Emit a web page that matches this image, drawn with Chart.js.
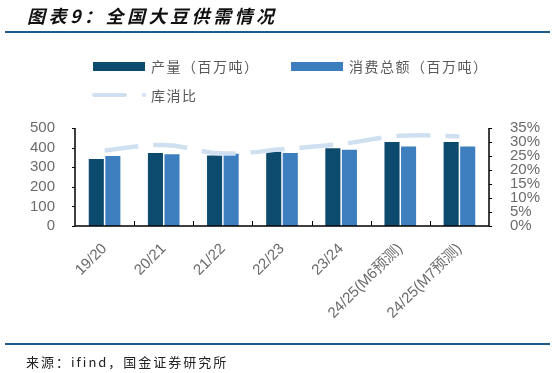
<!DOCTYPE html>
<html>
<head>
<meta charset="utf-8">
<script src="https://cdn.jsdelivr.net/npm/chart.js@4/dist/chart.umd.min.js"></script>
<style>
  html, body { margin: 0; padding: 0; background: #fff; }
  #wrap { position: relative; width: 556px; height: 373px; overflow: hidden; font-family: "Liberation Sans", "Noto Sans CJK SC", sans-serif; }
  #c { position: absolute; left: 0; top: 0; }
  .title { position: absolute; left: 27px; top: 3px; font-family: "Noto Sans CJK SC", sans-serif; font-weight: bold; font-style: italic; font-size: 18px; letter-spacing: 3.5px; color: #111; line-height: 24px; white-space: nowrap; }
  .rule { position: absolute; left: 5px; width: 545px; height: 2px; background: #1f5c8c; }
  .src { position: absolute; left: 26px; top: 352px; font-family: "Noto Sans CJK SC", sans-serif; font-size: 13px; letter-spacing: 2px; color: #222; line-height: 20px; white-space: nowrap; }
  .lg { position: absolute; font-family: "Noto Sans CJK SC", sans-serif; font-size: 14px; letter-spacing: 1.5px; color: #595959; line-height: 18px; white-space: nowrap; }
  .box { position: absolute; }
</style>
</head>
<body>
<div id="wrap">
  <canvas id="c" width="556" height="373"></canvas>
  <div class="title">图表9：全国大豆供需情况</div>
  <div class="rule" style="top:31px"></div>
  <div class="box" style="left:93px; top:62px; width:52px; height:9px; background:#0c4a6e"></div>
  <div class="lg" style="left:151px; top:57px">产量（百万吨）</div>
  <div class="box" style="left:291px; top:62px; width:52px; height:9px; background:#3d7ebf"></div>
  <div class="lg" style="left:349px; top:57px">消费总额（百万吨）</div>
  <div class="box" style="left:92px; top:93px; width:35px; height:4px; border-radius:2px; background:#cfe0f1"></div>
  <div class="box" style="left:142px; top:93px; width:4px; height:4px; border-radius:2px; background:#cfe0f1"></div>
  <div class="lg" style="left:151px; top:86px">库消比</div>
  <div class="rule" style="top:343px"></div>
  <div class="src">来源：ifind，国金证券研究所</div>
</div>
<script>
const categories = ["19/20", "20/21", "21/22", "22/23", "23/24", "24/25(M6预测)", "24/25(M7预测)"];
const production = [342, 373, 360, 379, 397, 428, 428];
const consumption = [357, 366, 369, 372, 389, 405, 405];
const stockToUse = [27.0, 28.9, 25.9, 27.4, 29.3, 32.2, 32.0];
const leftTicks = [0, 100, 200, 300, 400, 500];
const rightTicks = [0, 5, 10, 15, 20, 25, 30, 35];

const tickFont = { family: "'Liberation Sans', 'Noto Sans CJK SC', sans-serif", size: 15 };
const tickColor = "#6b6b6b";

const axesPlugin = {
  id: "axesPlugin",
  afterDraw(chart) {
    const ctx = chart.ctx;
    const a = chart.chartArea;
    const y = chart.scales.y;
    const y1 = chart.scales.y1;
    ctx.save();
    ctx.strokeStyle = "#000";
    ctx.lineWidth = 1.5;
    ctx.beginPath();
    ctx.moveTo(a.left, a.top); ctx.lineTo(a.left, a.bottom); ctx.lineTo(a.right, a.bottom); ctx.lineTo(a.right, a.top);
    ctx.stroke();
    ctx.lineWidth = 1;
    ctx.beginPath();
    leftTicks.forEach(v => { const py = Math.round(y.getPixelForValue(v)) + 0.5; ctx.moveTo(a.left - 3, py); ctx.lineTo(a.left, py); });
    rightTicks.forEach(v => { const py = Math.round(y1.getPixelForValue(v)) + 0.5; ctx.moveTo(a.right, py); ctx.lineTo(a.right + 3, py); });
    const w = (a.right - a.left) / categories.length;
    for (let i = 1; i < categories.length; i++) {
      const px = Math.round(a.left + w * i) + 0.5;
      ctx.moveTo(px, a.bottom); ctx.lineTo(px, a.bottom - 5);
    }
    ctx.stroke();
    ctx.restore();
  }
};

new Chart(document.getElementById("c"), {
  data: {
    labels: categories,
    datasets: [
      { type: "line", label: "库消比", data: stockToUse, yAxisID: "y1", order: 0,
        borderColor: "#cfe0f1", borderWidth: 4.5, borderDash: [34, 15], tension: 0.4,
        pointRadius: 0, fill: false },
      { type: "bar", label: "产量（百万吨）", data: production, yAxisID: "y", order: 1,
        backgroundColor: "#0c4a6e", categoryPercentage: 0.56, barPercentage: 0.91 },
      { type: "bar", label: "消费总额（百万吨）", data: consumption, yAxisID: "y", order: 1,
        backgroundColor: "#3d7ebf", categoryPercentage: 0.56, barPercentage: 0.91 }
    ]
  },
  options: {
    responsive: false,
    animation: false,
    events: [],
    layout: { padding: { top: 128, left: 0, right: 0, bottom: 0 } },
    plugins: { legend: { display: false }, tooltip: { enabled: false } },
    scales: {
      x: {
        offset: true,
        grid: { display: false },
        border: { display: false },
        ticks: { font: tickFont, color: tickColor, minRotation: 45, maxRotation: 45, padding: 6, autoSkip: false },
        afterFit(s) { s.height = 147; }
      },
      y: {
        position: "left", min: 0, max: 500,
        grid: { display: false }, border: { display: false },
        afterBuildTicks(s) { s.ticks = leftTicks.map(v => ({ value: v })); },
        ticks: { font: tickFont, color: tickColor, padding: 12, autoSkip: false },
        afterFit(s) { s.width = 75; }
      },
      y1: {
        position: "right", min: 0, max: 35,
        grid: { display: false }, border: { display: false },
        afterBuildTicks(s) { s.ticks = rightTicks.map(v => ({ value: v })); },
        ticks: { font: tickFont, color: tickColor, padding: 13, autoSkip: false, callback: v => v + "%" },
        afterFit(s) { s.width = 67; }
      }
    }
  },
  plugins: [axesPlugin]
});
</script>
</body>
</html>
